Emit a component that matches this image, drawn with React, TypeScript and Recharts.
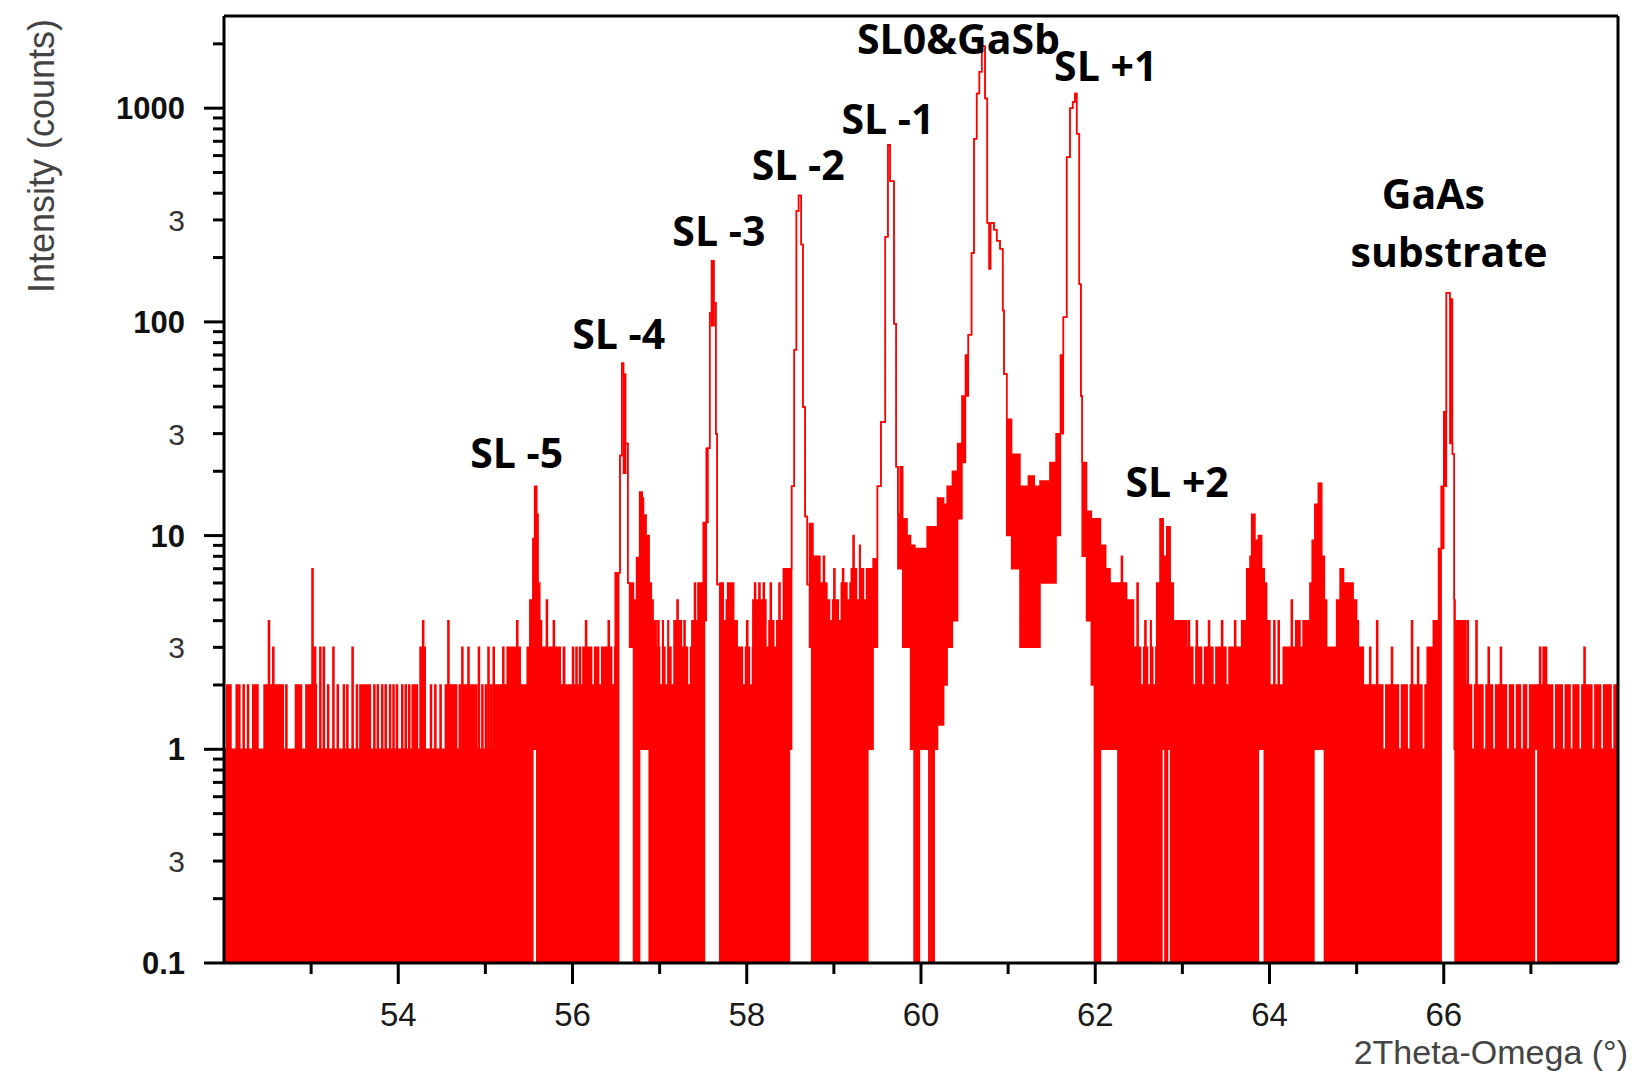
import React from "react"
import { ComposedChart, Area, XAxis, YAxis, ReferenceDot, ReferenceLine } from "recharts"

// XRD 2Theta-Omega scan, counts on a log axis.
// Each band row: [2θ where the step starts, lowest count, highest count] inside that step.
// 0 means the detector read zero counts (drawn down to the floor of the log axis).
type Band = [number, number, number]

const lowAngleNoise: Band[] = [
  [52.0, 0, 1], [52.03, 0, 2], [52.08, 0, 1], [52.33, 0, 2], [52.39, 0, 1],
  [52.46, 0, 2], [52.68, 0, 1], [52.82, 0, 2], [52.89, 0, 1], [52.94, 0, 2],
  [53.06, 0, 1], [53.56, 0, 2], [53.68, 0, 1], [54.16, 0, 2], [54.22, 0, 1],
  [54.25, 0, 3], [54.31, 0, 1], [54.54, 0, 2], [54.67, 0, 1], [54.74, 0, 2],
  [54.9, 0, 1], [55.11, 0, 2], [55.25, 0, 3], [55.4, 0, 2], [55.48, 0, 3],
]

const satellitesMinus: Band[] = [
  // SL -5
  [55.51, 0, 5], [55.545, 1, 9.7], [55.565, 1, 17], [55.59, 0, 12.6], [55.605, 0, 6],
  [55.625, 0, 4], [55.645, 0, 3], [55.91, 0, 2], [56.12, 0, 3],
  // SL -4
  [56.49, 0, 6.7], [56.53, 6.7, 6.7], [56.545, 23.7, 23.7], [56.565, 64, 64], [56.585, 19.6, 57],
  [56.61, 27, 27], [56.635, 6, 6], [56.655, 3, 6], [56.7, 0, 5], [56.735, 0, 7.9],
  [56.77, 1, 16], [56.8, 1, 15], [56.815, 1, 12.5], [56.845, 1, 10], [56.88, 0, 6],
  [56.905, 0, 5], [56.925, 0, 4], [56.96, 0, 3], [57.16, 0, 4], [57.25, 0, 3],
  [57.37, 0, 4], [57.44, 0, 6],
  // SL -3
  [57.5, 0, 11.5], [57.515, 4, 11.5], [57.535, 11.5, 25.6], [57.555, 25.6, 25.6], [57.575, 110, 110],
  [57.595, 96, 193], [57.625, 123, 123], [57.645, 30, 30], [57.66, 5.9, 5.9], [57.69, 0, 6],
  [57.75, 0, 5], [57.8, 0, 6], [57.85, 0, 4], [57.89, 0, 3], [58.07, 0, 5],
  [58.25, 0, 4], [58.42, 0, 7],
  // SL -2
  [58.49, 1, 7], [58.515, 17, 17], [58.545, 74, 74], [58.57, 330, 330], [58.595, 390, 390],
  [58.625, 230, 230], [58.645, 40, 40], [58.67, 12.3, 12.3], [58.695, 5.9, 5.9], [58.72, 3, 11.4],
  [58.745, 0, 11.4], [58.76, 0, 8], [58.84, 0, 6], [58.92, 0, 5], [59.05, 0, 6],
  [59.2, 0, 7],
]

const centralPeaks: Band[] = [
  // SL -1
  [59.39, 1, 7], [59.45, 3, 7.8], [59.5, 17, 17], [59.54, 34, 34], [59.59, 250, 250],
  [59.62, 675, 675], [59.645, 455, 455], [59.69, 98, 98], [59.715, 21, 21], [59.735, 7, 12.6],
  [59.76, 7, 21], [59.79, 3, 12], [59.84, 3, 10], [59.88, 1, 9], [59.93, 1, 8.7],
  [60.07, 1, 11], [60.19, 1.3, 15], [60.26, 2, 14], [60.3, 3, 17], [60.36, 4, 20],
  [60.42, 12, 27], [60.47, 22, 45], [60.51, 45, 70],
  // SL0 & GaSb with its shoulder
  [60.543, 87, 87], [60.58, 210, 210], [60.608, 720, 720], [60.639, 1170, 1170], [60.67, 1480, 1480],
  [60.697, 1950, 1950], [60.735, 1110, 1110], [60.761, 290, 290], [60.78, 177, 290], [60.8, 290, 290],
  [60.838, 270, 270], [60.869, 240, 240], [60.907, 220, 220], [60.938, 113, 113], [60.953, 57, 57],
  [60.984, 10, 35], [61.04, 7, 24], [61.136, 3, 17], [61.232, 3, 19], [61.3, 3, 17],
  [61.366, 6, 18], [61.48, 6, 22], [61.55, 10, 30], [61.6, 30, 70],
  // SL +1
  [61.634, 105, 105], [61.672, 590, 590], [61.71, 1000, 1000], [61.741, 1070, 1070], [61.767, 1170, 1170],
  [61.787, 760, 760], [61.817, 150, 150], [61.835, 45, 45], [61.85, 8, 22], [61.9, 4, 13],
  [61.955, 2, 12],
]

const satellitesPlus: Band[] = [
  [61.99, 0, 12], [62.06, 1, 9], [62.12, 1, 7], [62.17, 1, 6], [62.26, 0, 6],
  [62.36, 0, 5], [62.44, 0, 3],
  // SL +2
  [62.705, 0, 6], [62.743, 0, 12], [62.78, 0, 8], [62.82, 0, 11], [62.86, 0, 6],
  [62.896, 0, 4], [63.05, 0, 3], [63.68, 0, 4], [63.738, 0, 7], [63.776, 0, 8],
  [63.795, 0, 12.6], [63.833, 0, 9.5], [63.872, 1, 10], [63.91, 1, 7], [63.94, 0, 6],
  [63.967, 0, 4], [64.005, 0, 2], [64.158, 0, 3], [64.3, 0, 4], [64.464, 0, 6],
  [64.49, 0, 9.5], [64.51, 1, 9.5], [64.52, 1, 14], [64.56, 1, 17.6], [64.6, 1, 8],
  [64.63, 0, 5], [64.656, 0, 3], [64.77, 0, 5], [64.81, 0, 7], [64.85, 0, 6],
  [64.96, 0, 5], [65.0, 0, 4], [65.02, 0, 3], [65.077, 0, 2], [65.81, 0, 3],
  [65.88, 0, 4],
]

const substrateBand: Band[] = [
  [65.94, 0, 8.7], [65.97, 8.7, 17], [66.0, 17, 38], [66.03, 137, 137], [66.07, 27, 128],
  [66.1, 24, 24], [66.12, 1, 5], [66.13, 0, 4], [66.25, 0, 2], [67.04, 1, 2],
  [67.08, 0, 2], [67.14, 0, 3], [67.18, 0, 2],
]

// single-channel spikes above the band
const spikeAngle = [
  52.14, 52.17, 52.22, 52.27, 52.51, 52.56, 52.71, 53.01, 53.04, 53.1, 53.14, 53.19, 53.25, 53.3,
  53.37, 53.41, 53.47, 53.52, 53.72, 53.76, 53.81, 53.85, 53.9, 53.94, 53.98, 54.04, 54.08, 54.12,
  54.28, 54.37, 54.42, 54.48, 54.57, 54.7, 54.73, 54.8, 54.92, 54.96, 55.0, 55.03, 55.06, 55.09,
  55.2, 55.36, 55.7, 55.78, 56.0, 56.04, 56.08, 56.15, 56.41, 56.98, 57.03, 57.09, 57.2, 57.28,
  57.4, 57.47, 57.78, 57.83, 58.0, 58.09, 58.14, 58.19, 58.27, 58.37, 58.88, 59.0, 59.1, 59.22,
  59.29, 62.3, 62.48, 62.57, 62.63, 63.07, 63.16, 63.3, 63.45, 63.6, 64.05, 64.1, 64.25, 65.15,
  65.23, 65.4, 65.63, 65.7, 66.27, 66.37, 66.51, 66.65, 67.1, 67.61,
]
const spikeCounts = [
  2, 2, 2, 2, 4, 3, 2, 7, 3, 3, 3, 2, 3, 2,
  2, 2, 3, 2, 2, 2, 2, 2, 2, 2, 2, 2, 2, 2,
  4, 2, 2, 2, 4, 2, 3, 3, 3, 2, 2, 3, 2, 3,
  3, 4, 5, 4, 3, 3, 3, 4, 4, 4, 4, 4, 5, 4,
  6, 5, 6, 6, 4, 6, 6, 6, 6, 6, 8, 7, 7, 10,
  9, 8, 6, 4, 4, 4, 4, 4, 4, 4, 4, 4, 5, 3,
  4, 3, 4, 3, 4, 4, 3, 3, 3, 3,
]

// short dips of the upper edge (white slits from above)
const dipAngle = [
  55.86, 56.22, 56.3, 56.45, 57.0, 57.06, 57.13, 57.32, 57.73, 57.95, 58.03, 58.22, 58.31, 58.95,
  59.05, 59.15, 59.26, 59.34, 62.52, 62.6, 62.66, 63.12, 63.22, 63.35, 63.5, 64.35, 65.3, 65.48,
  65.58, 65.75, 66.32, 66.45, 66.56, 66.72, 66.8, 66.88, 66.95, 67.25, 67.36, 67.45, 67.55, 67.7,
  67.8, 67.92,
]
const dipCounts = [
  2, 2, 2, 2, 2, 2, 2, 2, 4, 2, 2, 3, 3, 4,
  4, 5, 5, 5, 2, 2, 2, 2, 2, 2, 2, 3, 1, 1,
  1, 1, 1, 1, 1, 1, 1, 1, 1, 1, 1, 1, 1, 1,
  1, 1,
]

// single channels that fell to zero inside the central valley
const zeroAngle = [59.92, 59.95, 59.97, 60.09, 60.12, 60.14]

// short lifts of the lower edge (white slits from below)
const liftAngle = [62.765, 62.83]
const liftCounts = [1, 1]

const angleTicks = [53, 54, 55, 56, 57, 58, 59, 60, 61, 62, 63, 64, 65, 66, 67]
const countTicks = [
  0.1, 0.2, 0.3, 0.4, 0.5, 0.6, 0.7, 0.8, 0.9,
  1, 2, 3, 4, 5, 6, 7, 8, 9,
  10, 20, 30, 40, 50, 60, 70, 80, 90,
  100, 200, 300, 400, 500, 600, 700, 800, 900,
  1000, 2000,
]

const peakLabels = [
  { text: "SL0&GaSb", twoTheta: 60.43, counts: 1786 },
  { text: "SL +1", twoTheta: 62.12, counts: 1337 },
  { text: "SL -1", twoTheta: 59.62, counts: 756 },
  { text: "SL -2", twoTheta: 58.59, counts: 461 },
  { text: "SL -3", twoTheta: 57.68, counts: 226 },
  { text: "SL -4", twoTheta: 56.53, counts: 74.8 },
  { text: "SL -5", twoTheta: 55.36, counts: 20.8 },
  { text: "SL +2", twoTheta: 62.94, counts: 15.1 },
  { text: "GaAs", twoTheta: 65.88, counts: 337 },
  { text: "substrate", twoTheta: 66.06, counts: 181 },
]

const X_MIN = 52
const X_MAX = 68
const Y_MIN = 0.1
const Y_MAX = 2700
const ZERO_FLOOR = 0.05 // zero counts sit just under the axis floor and get clipped
const SPIKE_W = 0.012
const SLIT_W = 0.035

const PLOT_LEFT = 224
const PLOT_BOTTOM = 963
const AXIS_FONT = "'Liberation Sans', Arial, sans-serif"
const NOTE_FONT = "'Open Sans', 'Noto Sans', sans-serif"

function buildScan() {
  const bands = [...lowAngleNoise, ...satellitesMinus, ...centralPeaks, ...satellitesPlus, ...substrateBand]
  const r = (v: number) => Math.round(v * 10000) / 10000
  const edges = new Set<number>([X_MAX])
  bands.forEach((b) => edges.add(r(b[0])))
  spikeAngle.forEach((a) => { edges.add(r(a)); edges.add(r(a + SPIKE_W)) })
  dipAngle.forEach((a) => { edges.add(r(a)); edges.add(r(a + SLIT_W)) })
  zeroAngle.forEach((a) => { edges.add(r(a)); edges.add(r(a + SPIKE_W)) })
  liftAngle.forEach((a) => { edges.add(r(a)); edges.add(r(a + SLIT_W)) })
  const xs = [...edges].filter((x) => x >= X_MIN && x <= X_MAX).sort((a, b) => a - b)
  const inside = (x: number, a: number, w: number) => x >= r(a) - 1e-9 && x < r(a + w) - 1e-9

  return xs.map((x, i) => {
    const at = i === xs.length - 1 ? xs[i - 1] : x
    let band = bands[0]
    for (const b of bands) if (b[0] <= at + 1e-9) band = b
    let lo = band[1]
    let hi = band[2]
    spikeAngle.forEach((a, k) => { if (inside(at, a, SPIKE_W)) hi = Math.max(hi, spikeCounts[k]) })
    dipAngle.forEach((a, k) => { if (inside(at, a, SLIT_W)) hi = Math.min(hi, dipCounts[k]) })
    zeroAngle.forEach((a) => { if (inside(at, a, SPIKE_W)) lo = 0 })
    liftAngle.forEach((a, k) => { if (inside(at, a, SLIT_W)) lo = Math.max(lo, liftCounts[k]) })
    if (lo > hi) lo = hi
    return { twoTheta: x, counts: [lo === 0 ? ZERO_FLOOR : lo, hi] }
  })
}

const scan = buildScan()

function AngleTick(props: any) {
  const { x, payload } = props
  const v = payload.value as number
  const major = v % 2 === 0
  return (
    <g>
      <line x1={x} x2={x} y1={PLOT_BOTTOM} y2={PLOT_BOTTOM + (major ? 21 : 11)} stroke="#000" strokeWidth={3} />
      {major && (
        <text x={x} y={1026} textAnchor="middle" fontSize={33} fontFamily={AXIS_FONT} fill="#1a1a1a">
          {v}
        </text>
      )}
    </g>
  )
}

function CountTick(props: any) {
  const { y, payload } = props
  const v = payload.value as number
  const lg = Math.log10(v)
  const major = Math.abs(lg - Math.round(lg)) < 1e-6
  const three = Math.abs(v / Math.pow(10, Math.floor(lg + 1e-9)) - 3) < 1e-6
  return (
    <g>
      <line x1={PLOT_LEFT - (major ? 20 : 11)} x2={PLOT_LEFT} y1={y} y2={y} stroke="#000" strokeWidth={3} />
      {major && (
        <text x={185} y={y + 11} textAnchor="end" fontSize={31} fontWeight={700} fontFamily={AXIS_FONT} fill="#111">
          {v < 1 ? "0.1" : String(v)}
        </text>
      )}
      {three && (
        <text x={185} y={y + 11} textAnchor="end" fontSize={30} fontFamily={AXIS_FONT} fill="#333">
          3
        </text>
      )}
    </g>
  )
}

export default function App() {
  return (
    <div style={{ position: "absolute", left: 0, top: 0, width: 1634, height: 1071, background: "#fff" }}>
      <ComposedChart width={1634} height={1071} data={scan} margin={{ top: 16, right: 16, bottom: 0, left: 0 }}>
        <XAxis
          dataKey="twoTheta"
          type="number"
          domain={[X_MIN, X_MAX]}
          allowDataOverflow
          ticks={angleTicks}
          interval={0}
          tick={(p: any) => <AngleTick {...p} />}
          tickLine={false}
          axisLine={{ stroke: "#000", strokeWidth: 3 }}
          height={108}
          label={{
            content: () => (
              <text x={1628} y={1064} textAnchor="end" fontSize={34} fontFamily={AXIS_FONT} fill="#444">
                2Theta-Omega (°)
              </text>
            ),
          }}
        />
        <YAxis
          type="number"
          scale="log"
          domain={[Y_MIN, Y_MAX]}
          allowDataOverflow
          ticks={countTicks}
          interval={0}
          tick={(p: any) => <CountTick {...p} />}
          tickLine={false}
          axisLine={{ stroke: "#000", strokeWidth: 3 }}
          width={224}
          label={{
            content: () => (
              <text
                x={54}
                y={156}
                textAnchor="middle"
                fontSize={36}
                fontFamily={AXIS_FONT}
                fill="#444"
                transform="rotate(-90 54 156)"
              >
                Intensity (counts)
              </text>
            ),
          }}
        />
        <Area
          type="stepAfter"
          dataKey="counts"
          stroke="#ff0000"
          strokeWidth={1.5}
          fill="#ff0000"
          fillOpacity={1}
          dot={false}
          activeDot={false}
          isAnimationActive={false}
        />
        {/* frame: top and right edges of the plot box */}
        <ReferenceLine y={Y_MAX} stroke="#000" strokeWidth={3} ifOverflow="visible" />
        <ReferenceLine x={X_MAX} stroke="#000" strokeWidth={3} ifOverflow="visible" />
        {peakLabels.map((a) => (
          <ReferenceDot
            key={a.text}
            x={a.twoTheta}
            y={a.counts}
            r={0}
            ifOverflow="visible"
            shape={(p: any) => (
              <text
                x={p.cx}
                y={p.cy}
                textAnchor="middle"
                fontSize={41}
                fontWeight={700}
                fontFamily={NOTE_FONT}
                fill="#000"
              >
                {a.text}
              </text>
            )}
          />
        ))}
      </ComposedChart>
    </div>
  )
}
